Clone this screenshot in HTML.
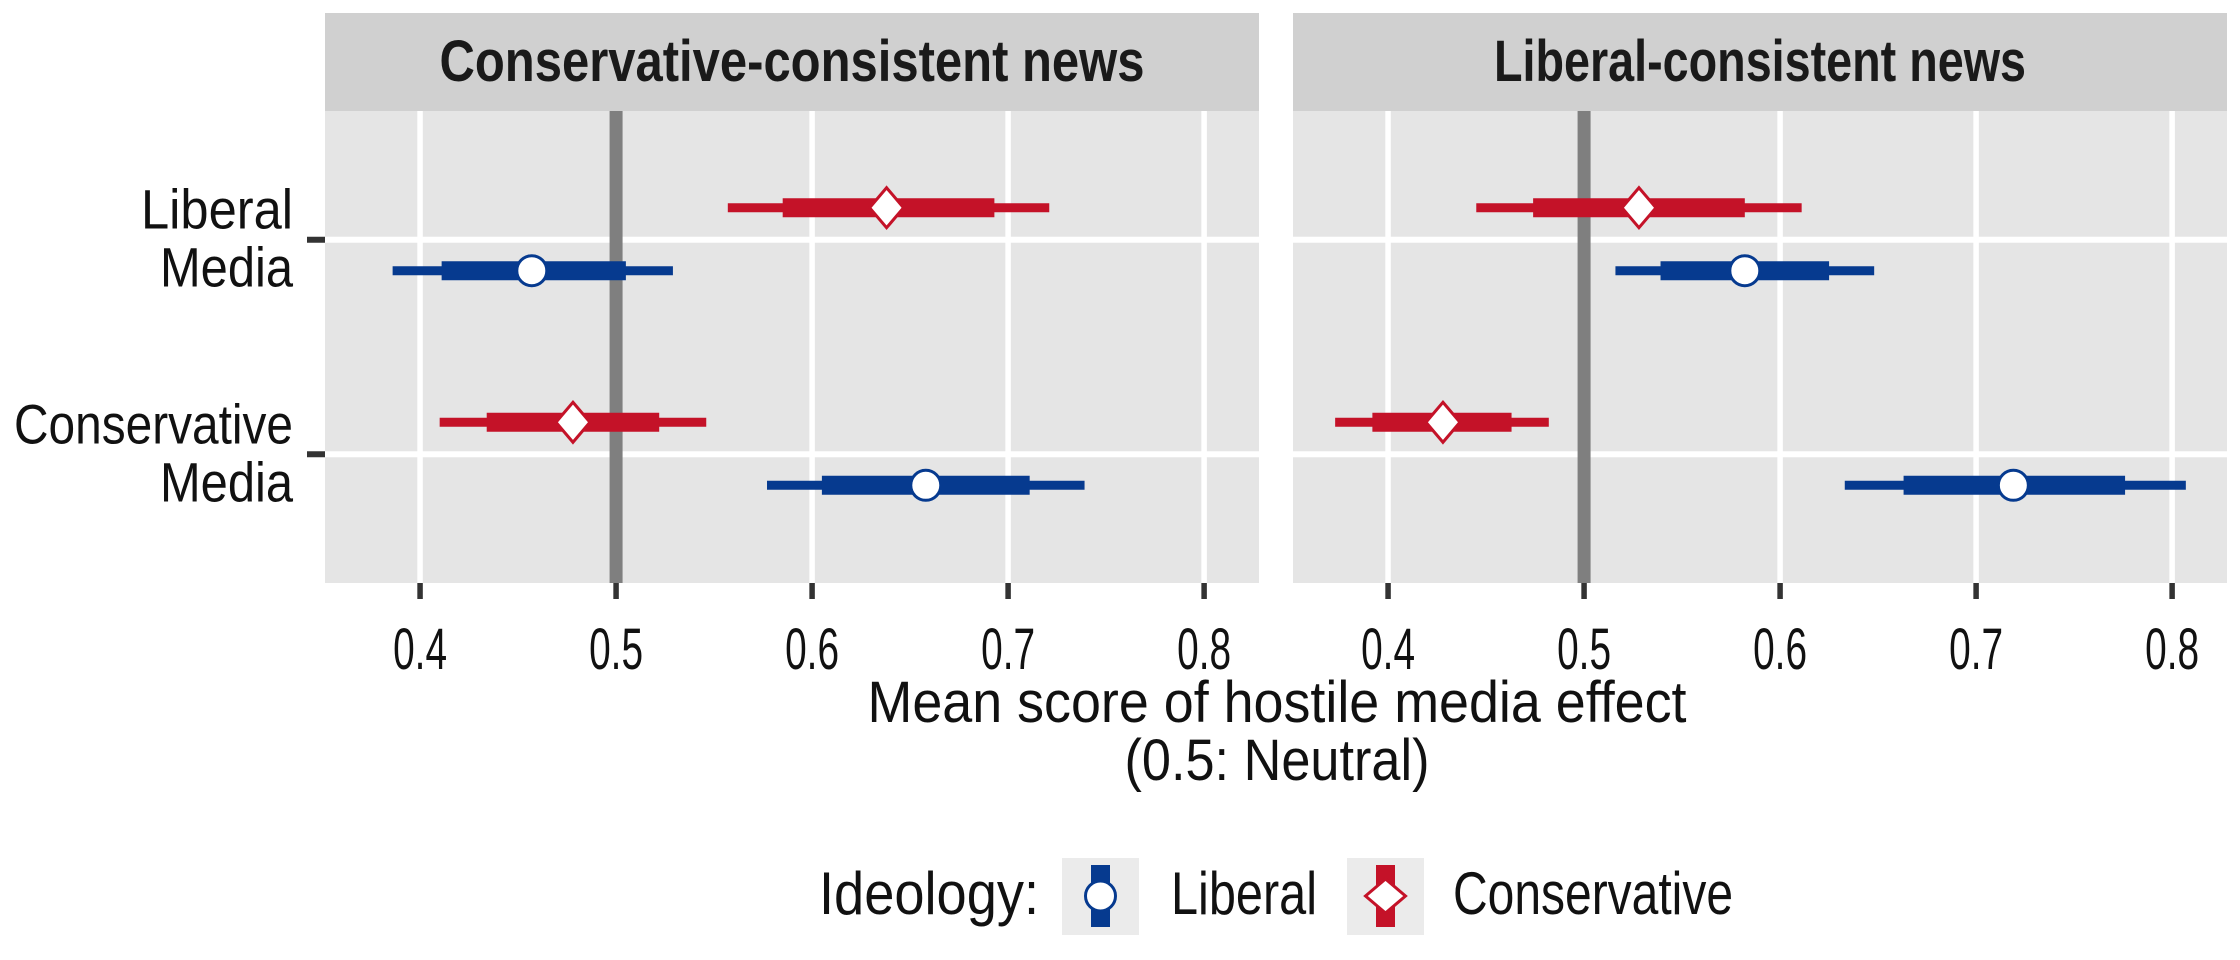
<!DOCTYPE html>
<html><head><meta charset="utf-8">
<style>
html,body{margin:0;padding:0;background:#fff;}
svg{display:block;font-family:"Liberation Sans Narrow","Liberation Sans",sans-serif;}
</style></head>
<body>
<svg id="chart" width="2240" height="960" viewBox="0 0 2240 960" xmlns="http://www.w3.org/2000/svg">
<g id="layer"></g>
</svg>
<script>
// ---- data ----
const panels = ["Conservative-consistent news", "Liberal-consistent news"];
const mediaCats = ["Liberal Media", "Conservative Media"];
const groups = ["Liberal", "Conservative"];
const xTicks = [0.4, 0.5, 0.6, 0.7, 0.8];
// per panel: [LiberalMedia, ConservativeMedia]
const libMean   = [[0.457, 0.658], [0.582, 0.719]];
const libLo95   = [[0.386, 0.577], [0.516, 0.633]];
const libHi95   = [[0.529, 0.739], [0.648, 0.807]];
const libLo80   = [[0.411, 0.605], [0.539, 0.663]];
const libHi80   = [[0.505, 0.711], [0.625, 0.776]];
const conMean   = [[0.638, 0.478], [0.528, 0.428]];
const conLo95   = [[0.557, 0.410], [0.445, 0.373]];
const conHi95   = [[0.721, 0.546], [0.611, 0.482]];
const conLo80   = [[0.585, 0.434], [0.474, 0.392]];
const conHi80   = [[0.693, 0.522], [0.582, 0.463]];
const neutral = 0.5;

const NS = "http://www.w3.org/2000/svg";
const layer = document.getElementById("layer");
function mk(tag, attrs, parent){
  const e = document.createElementNS(NS, tag);
  for (const k in attrs) e.setAttribute(k, attrs[k]);
  (parent||layer).appendChild(e);
  return e;
}
const panelX = [325, 1293];
const panelW = 934;
const plotTop = 111, plotBottom = 583, stripTop = 13;
const xMin = 0.3515, xMax = 0.828;
function xScale(p, v){ return panelX[p] + (v - xMin) / (xMax - xMin) * panelW; }
const band = (plotBottom - plotTop) / 2.2;
function yScale(i){ return plotTop + (0.6 + i) * band; }
const RED = "#c41228", BLUE = "#063a8f";

panels.forEach((title, p) => {
  const g = mk("g", {});
  
  
  const bg = mk("rect", {x: panelX[p], y: plotTop, width: panelW, height: plotBottom - plotTop, fill: "#e5e5e5"}, g);
  
  
  const strip = mk("rect", {x: panelX[p], y: stripTop, width: panelW, height: plotTop - stripTop, fill: "#d0d0d0"}, g);
  
  
  const st = mk("text", {x: panelX[p] + panelW/2, y: 81, "text-anchor": "middle", "font-size": 58, "font-weight": "bold", fill: "#1a1a1a", textLength: p === 0 ? 705 : 532, lengthAdjust: "spacingAndGlyphs"}, g);
  st.textContent = title;
  
  
  xTicks.forEach(t => {
    const gl = mk("line", {x1: xScale(p,t), x2: xScale(p,t), y1: plotTop, y2: plotBottom, stroke: "#fff", "stroke-width": 5.5}, g);
    
    
    const tk = mk("line", {x1: xScale(p,t), x2: xScale(p,t), y1: plotBottom, y2: 599, stroke: "#333", "stroke-width": 5.5}, g);
    
    
    const tl = mk("text", {x: xScale(p,t), y: 669, "text-anchor": "middle", "font-size": 58, fill: "#111", textLength: 54, lengthAdjust: "spacingAndGlyphs"}, g);
    tl.textContent = t.toFixed(1);
    
    
  });
  mediaCats.forEach((c, i) => {
    const gl = mk("line", {x1: panelX[p], x2: panelX[p] + panelW, y1: yScale(i), y2: yScale(i), stroke: "#fff", "stroke-width": 6}, g);
    
    
  });
  const ref = mk("line", {x1: xScale(p, neutral), x2: xScale(p, neutral), y1: plotTop, y2: plotBottom, stroke: "#7f7f7f", "stroke-width": 13}, g);
  
  

  const series = [
    {name: "conservative", color: RED, off: -32, mean: conMean, lo95: conLo95, hi95: conHi95, lo80: conLo80, hi80: conHi80, shape: "diamond"},
    {name: "liberal", color: BLUE, off: 31, mean: libMean, lo95: libLo95, hi95: libHi95, lo80: libLo80, hi80: libHi80, shape: "circle"}
  ];
  series.forEach(s => {
    mediaCats.forEach((c, i) => {
      const y = yScale(i) + s.off;
      const l1 = mk("line", {x1: xScale(p, s.lo95[p][i]), x2: xScale(p, s.hi95[p][i]), y1: y, y2: y, stroke: s.color, "stroke-width": 9}, g);
      
      
      const l2 = mk("line", {x1: xScale(p, s.lo80[p][i]), x2: xScale(p, s.hi80[p][i]), y1: y, y2: y, stroke: s.color, "stroke-width": 19}, g);
      
      
      const cx = xScale(p, s.mean[p][i]);
      let m;
      if (s.shape === "circle") {
        m = mk("circle", {cx: cx, cy: y, r: 15, fill: "#fff", stroke: s.color, "stroke-width": 3}, g);
      } else {
        m = mk("polygon", {points: `${cx},${y-20} ${cx+17},${y} ${cx},${y+20} ${cx-17},${y}`, fill: "#fff", stroke: s.color, "stroke-width": 3}, g);
      }
      
      
    });
  });
});

const yLines = [["Liberal", "Media"], ["Conservative", "Media"]];
mediaCats.forEach((c, i) => {
  const y = yScale(i);
  const tk = mk("line", {x1: 307, x2: 325, y1: y, y2: y, stroke: "#333", "stroke-width": 6});
  
  
  const widths = i === 0 ? [152, 133] : [279, 133];
  yLines[i].forEach((ln, j) => {
    const t = mk("text", {x: 293, y: y - 11 + j * 58, "text-anchor": "end", "font-size": 56, fill: "#111", textLength: widths[j], lengthAdjust: "spacingAndGlyphs"});
    t.textContent = ln;
    
    
  });
});

const xt1 = mk("text", {x: 1277, y: 722, "text-anchor": "middle", "font-size": 58, fill: "#111", textLength: 819, lengthAdjust: "spacingAndGlyphs"});
xt1.textContent = "Mean score of hostile media effect";


const xt2 = mk("text", {x: 1277, y: 780, "text-anchor": "middle", "font-size": 58, fill: "#111", textLength: 305, lengthAdjust: "spacingAndGlyphs"});
xt2.textContent = "(0.5: Neutral)";



const lg = mk("g", {});


const lt = mk("text", {x: 819, y: 914, "font-size": 60, fill: "#111", textLength: 220, lengthAdjust: "spacingAndGlyphs"}, lg);
lt.textContent = "Ideology:";


const keys = [{x: 1062, color: BLUE, label: "Liberal", tx: 1171, tw: 146, shape: "circle"},
              {x: 1347, color: RED, label: "Conservative", tx: 1453, tw: 280, shape: "diamond"}];
keys.forEach(k => {
  const e = mk("g", {}, lg);
  
  
  mk("rect", {x: k.x, y: 858, width: 77, height: 77, fill: "#ebebeb"}, e);
  const cx = k.x + 38.5;
  mk("rect", {x: cx - 9.5, y: 865, width: 19, height: 62, fill: k.color}, e);
  if (k.shape === "circle") mk("circle", {cx: cx, cy: 896, r: 15, fill: "#fff", stroke: k.color, "stroke-width": 3}, e);
  else mk("polygon", {points: `${cx},${879} ${cx+20},${896} ${cx},${913} ${cx-20},${896}`, fill: "#fff", stroke: k.color, "stroke-width": 3}, e);
  const t = mk("text", {x: k.tx, y: 914, "font-size": 60, fill: "#111", textLength: k.tw, lengthAdjust: "spacingAndGlyphs"}, e);
  t.textContent = k.label;
});
</script>
</body></html>
